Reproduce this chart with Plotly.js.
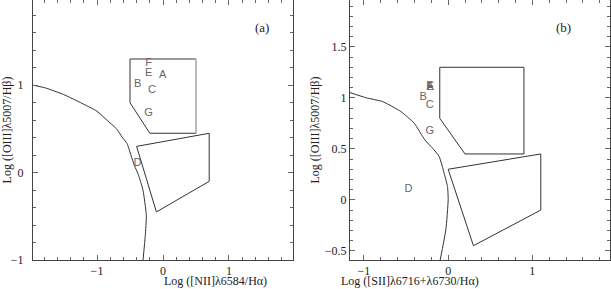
<!DOCTYPE html>
<html>
<head>
<meta charset="utf-8">
<script src="https://cdn.plot.ly/plotly-3.0.1.min.js"></script>
<style>
  html, body { margin: 0; padding: 0; background: #fff; }
  #plot { width: 611px; height: 289px; }
</style>
</head>
<body>
<div id="plot"></div>
<script>
// panel (a): [NII]/Ha boundary curve
const curveAx = [-1.97, -1.783, -1.506, -1.253, -1.0, -0.848, -0.708, -0.621, -0.545, -0.485, -0.435, -0.37, -0.303, -0.253, -0.268, -0.303];
const curveAy = [1.0, 0.969, 0.893, 0.802, 0.702, 0.599, 0.504, 0.408, 0.332, 0.198, 0.084, -0.031, -0.203, -0.489, -0.718, -1.0];

// panel (b): [SII]/Ha boundary curve
const curveBx = [-1.166, -0.97, -0.78, -0.562, -0.404, -0.277, -0.186, -0.107, -0.048, -0.008, 0.0, -0.028, -0.095];
const curveBy = [1.052, 1.0, 0.964, 0.866, 0.752, 0.588, 0.507, 0.425, 0.261, 0.13, 0.0, -0.294, -0.59];

// boxes in panel (a)
const boxUpAx = [-0.5, 0.5, 0.5, -0.2, -0.5, -0.5];
const boxUpAy = [1.3, 1.3, 0.45, 0.45, 0.8, 1.3];
const boxLowAx = [-0.4, 0.7, 0.7, -0.1, -0.4];
const boxLowAy = [0.3, 0.45, -0.1, -0.45, 0.3];

// boxes in panel (b)
const boxUpBx = [-0.1, 0.9, 0.9, 0.2, -0.1, -0.1];
const boxUpBy = [1.3, 1.3, 0.45, 0.45, 0.8, 1.3];
const boxLowBx = [0.0, 1.1, 1.1, 0.3, 0.0];
const boxLowBy = [0.3, 0.45, -0.1, -0.45, 0.3];

// region labels
const labelsA = ['F', 'E', 'A', 'B', 'C', 'G', 'D'];
const labAx = [-0.218, -0.218, -0.006, -0.385, -0.167, -0.218, -0.385];
const labAy = [1.25, 1.135, 1.115, 1.011, 0.943, 0.676, 0.103];

const labelsB = ['F', 'E', 'A', 'B', 'C', 'G', 'D'];
const labBx = [-0.22, -0.21, -0.214, -0.297, -0.218, -0.218, -0.471];
const labBy = [1.11, 1.1, 1.105, 1.007, 0.931, 0.676, 0.108];

// axis titles
const xTitleA = 'Log ([NII]λ6584/Hα)';
const xTitleB = 'Log ([SII]λ6716+λ6730/Hα)';
const yTitle = 'Log ([OIII]λ5007/Hβ)';

const lineStyle = {color: '#333', width: 1};
const curveStyle = {color: '#333', width: 1, shape: 'spline', smoothing: 0.5};
const textFont = {family: 'Liberation Sans, Arial, sans-serif', size: 11, color: '#666'};

const traces = [
    {x: curveAx, y: curveAy, mode: 'lines', line: curveStyle, xaxis: 'x', yaxis: 'y'},
    {x: boxUpAx, y: boxUpAy, mode: 'lines', line: lineStyle, xaxis: 'x', yaxis: 'y'},
    {x: [boxUpAx[1], boxUpAx[2]], y: [boxUpAy[1], boxUpAy[2]], mode: 'lines',
        line: {color: '#bbb', width: 2}, xaxis: 'x', yaxis: 'y'},
    {x: boxLowAx, y: boxLowAy, mode: 'lines', line: lineStyle, xaxis: 'x', yaxis: 'y'},
    {x: labAx, y: labAy, text: labelsA, mode: 'text', textfont: textFont, xaxis: 'x', yaxis: 'y'},

    {x: curveBx, y: curveBy, mode: 'lines', line: curveStyle, xaxis: 'x2', yaxis: 'y2'},
    {x: boxUpBx, y: boxUpBy, mode: 'lines', line: lineStyle, xaxis: 'x2', yaxis: 'y2'},
    {x: boxLowBx, y: boxLowBy, mode: 'lines', line: lineStyle, xaxis: 'x2', yaxis: 'y2'},
    {x: labBx, y: labBy, text: labelsB, mode: 'text', textfont: textFont, xaxis: 'x2', yaxis: 'y2'}
];

const serif = {family: 'Liberation Serif, Times New Roman, serif', size: 12, color: '#222'};

function axis(extra) {
    return Object.assign({
        showgrid: false,
        zeroline: false,
        showline: true,
        linecolor: '#444',
        linewidth: 1,
        mirror: 'ticks',
        ticks: 'inside',
        ticklen: 5,
        tickcolor: '#666',
        tickfont: serif,
        automargin: false,
        fixedrange: true
    }, extra);
}

// x-axis titles sit just under the tick labels, as in the figure
function xTitle(text, domain) {
    return {text: text, x: (domain[0] + domain[1]) / 2, y: 0, borderpad: 0,
        xref: 'paper', yref: 'paper', yanchor: 'bottom', showarrow: false, font: serif};
}

const domA = [33 / 611, 293 / 611];
const domB = [350 / 611, 610 / 611];

const layout = {
    width: 611,
    height: 289,
    margin: {l: 0, r: 0, t: 0, b: 0},
    paper_bgcolor: '#fff',
    plot_bgcolor: '#fff',
    showlegend: false,
    xaxis: axis({
        domain: domA, range: [-1.97, 1.97], dtick: 1,
        minor: {dtick: 0.2, ticks: 'inside', ticklen: 3, tickcolor: '#666'},
        ticklabelstandoff: 0
    }),
    yaxis: axis({
        domain: [29 / 289, 1], range: [-1, 1.975], dtick: 1,
        minor: {dtick: 0.2, ticks: 'inside', ticklen: 3, tickcolor: '#666'},
        ticklabelstandoff: 6,
        title: {text: yTitle, font: serif, standoff: 2}
    }),
    xaxis2: axis({
        anchor: 'y2',
        domain: domB, range: [-1.166, 1.922], dtick: 1,
        minor: {dtick: 0.2, ticks: 'inside', ticklen: 3, tickcolor: '#666'},
        ticklabelstandoff: 0
    }),
    yaxis2: axis({
        anchor: 'x2',
        domain: [29 / 289, 1], range: [-0.59, 1.96], dtick: 0.5,
        minor: {dtick: 0.1, ticks: 'inside', ticklen: 3, tickcolor: '#666'},
        title: {text: yTitle, font: serif, standoff: 2}
    }),
    annotations: [
        xTitle(xTitleA, domA),
        xTitle(xTitleB, domB),
        {text: '(a)', x: 262 / 611, y: 1 - 18 / 289, xref: 'paper', yref: 'paper',
            showarrow: false, font: {family: serif.family, size: 13, color: '#222'}},
        {text: '(b)', x: 573 / 611, y: 1 - 18 / 289, xref: 'paper', yref: 'paper',
            showarrow: false, font: {family: serif.family, size: 13, color: '#222'}}
    ]
};

Plotly.newPlot('plot', traces, layout, {displayModeBar: false, staticPlot: true});
</script>
</body>
</html>
